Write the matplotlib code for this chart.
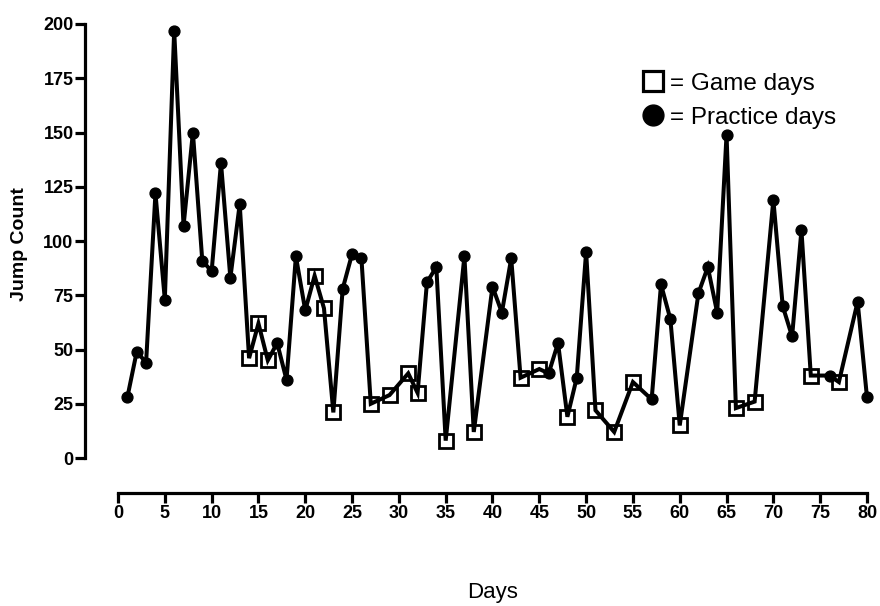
import matplotlib
matplotlib.use("Agg")
import matplotlib.pyplot as plt
from matplotlib.lines import Line2D

plt.rcParams['font.family'] = ['Liberation Sans', 'DejaVu Sans']

# jump counts per day, G = game day, P = practice day
days = [1, 2, 3, 4, 5, 6, 7, 8, 9, 10, 11, 12, 13, 14, 15, 16, 17, 18, 19, 20,
        21, 22, 23, 24, 25, 26, 27, 29, 31, 32, 33, 34, 35, 37, 38, 40, 41, 42,
        43, 45, 46, 47, 48, 49, 50, 51, 53, 55, 57, 58, 59, 60, 62, 63, 64, 65,
        66, 68, 70, 71, 72, 73, 74, 76, 77, 79, 80]
jumps = [28, 49, 44, 122, 73, 197, 107, 150, 91, 86, 136, 83, 117, 46, 62, 45,
         53, 36, 93, 68, 84, 69, 21, 78, 94, 92, 25, 29, 39, 30, 81, 88, 8, 93,
         12, 79, 67, 92, 37, 41, 39, 53, 19, 37, 95, 22, 12, 35, 27, 80, 64, 15,
         76, 88, 67, 149, 23, 26, 119, 70, 56, 105, 38, 38, 35, 72, 28]
kind = ['P', 'P', 'P', 'P', 'P', 'P', 'P', 'P', 'P', 'P', 'P', 'P', 'P', 'G',
        'G', 'G', 'P', 'P', 'P', 'P', 'G', 'G', 'G', 'P', 'P', 'P', 'G', 'G',
        'G', 'G', 'P', 'P', 'G', 'P', 'G', 'P', 'P', 'P', 'G', 'G', 'P', 'P',
        'G', 'P', 'P', 'G', 'G', 'G', 'P', 'P', 'P', 'G', 'P', 'P', 'P', 'P',
        'G', 'G', 'P', 'P', 'P', 'P', 'G', 'P', 'G', 'P', 'P']

x_ticks = list(range(0, 81, 5))
y_ticks = list(range(0, 201, 25))

fig = plt.figure(figsize=(8.8, 6.06), dpi=100)
ax = fig.add_axes([0.1341, 0.2442, 0.8511, 0.7162])

ax.plot(days, jumps, color='black', lw=2.9, solid_joinstyle='miter',
        clip_on=False, zorder=2)

gx = [d for d, k in zip(days, kind) if k == 'G']
gy = [v for v, k in zip(jumps, kind) if k == 'G']
px = [d for d, k in zip(days, kind) if k == 'P']
py = [v for v, k in zip(jumps, kind) if k == 'P']
ax.plot(gx, gy, ls='none', marker='s', ms=10, mfc='none', mec='black',
        mew=2.0, clip_on=False, zorder=3)
ax.plot(px, py, ls='none', marker='o', ms=7.8, mfc='black', mec='black',
        clip_on=False, zorder=3)

ax.set_xlim(0, 80)
ax.set_ylim(0, 200)
ax.set_xticks(x_ticks)
ax.set_yticks(y_ticks)

for side in ['top', 'right']:
    ax.spines[side].set_visible(False)
ax.spines['left'].set_position(('outward', 24))
ax.spines['bottom'].set_position(('outward', 25))
ax.spines['left'].set_bounds(0, 200)
ax.spines['bottom'].set_bounds(0, 80)
for side in ['left', 'bottom']:
    ax.spines[side].set_linewidth(2.3)
    ax.spines[side].set_capstyle('projecting')

ax.tick_params(axis='both', direction='out', length=7, width=2.3,
               labelsize=13, pad=1)
ax.tick_params(axis='x', length=7, pad=2)
for lab in ax.get_xticklabels() + ax.get_yticklabels():
    lab.set_fontweight('bold')

fig.text(0.022, 0.598, 'Jump Count', fontsize=14, fontweight='bold',
         rotation=90, ha='center', va='center')
fig.text(0.560, 0.023, 'Days', fontsize=16, ha='center', va='center')

handles = [
    Line2D([], [], ls='none', marker='s', ms=14, mfc='none', mec='black',
           mew=2.3),
    Line2D([], [], ls='none', marker='o', ms=15, mfc='black', mec='black'),
]
ax.legend(handles, ['= Game days', '= Practice days'], loc='upper left',
          bbox_to_anchor=(0.730, 0.880), bbox_transform=fig.transFigure,
          frameon=False, fontsize=17.5, handlelength=0.9, handletextpad=0.25,
          labelspacing=0.5, borderpad=0, borderaxespad=0)

fig.savefig('out.png', dpi=100)
